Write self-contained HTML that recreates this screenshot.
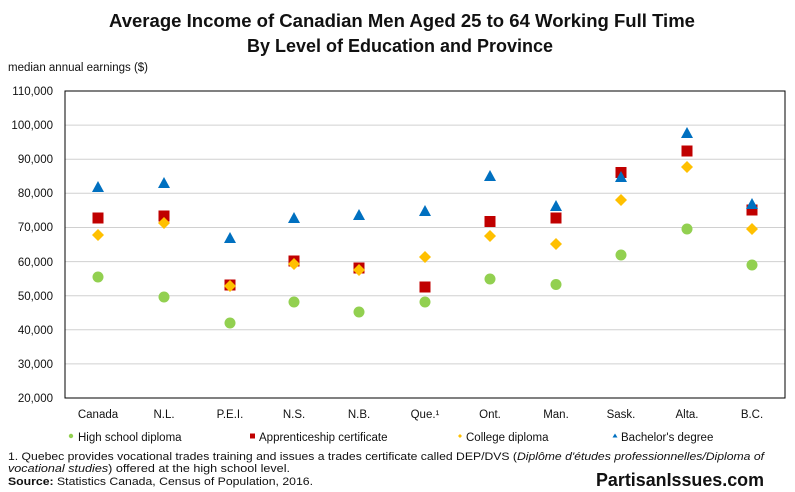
<!DOCTYPE html>
<html><head><meta charset="utf-8"><style>
body{margin:0;background:#fff;width:795px;height:492px;overflow:hidden}
svg{display:block;font-family:"Liberation Sans",sans-serif}
</style></head><body>
<svg width="795" height="492" viewBox="0 0 795 492" xmlns="http://www.w3.org/2000/svg">
<text x="109" y="27" font-size="18" font-weight="bold" fill="#111" textLength="586" lengthAdjust="spacingAndGlyphs">Average Income of Canadian Men Aged 25 to 64 Working Full Time</text>
<text x="247" y="52" font-size="18" font-weight="bold" fill="#111" textLength="306" lengthAdjust="spacingAndGlyphs">By Level of Education and Province</text>
<text x="8" y="71" font-size="11.5" fill="#111">median annual earnings ($)</text>
<g stroke="#d0d0d0" stroke-width="1">
<line x1="65" x2="785" y1="125.1" y2="125.1"/><line x1="65" x2="785" y1="159.2" y2="159.2"/><line x1="65" x2="785" y1="193.3" y2="193.3"/><line x1="65" x2="785" y1="227.5" y2="227.5"/><line x1="65" x2="785" y1="261.6" y2="261.6"/><line x1="65" x2="785" y1="295.7" y2="295.7"/><line x1="65" x2="785" y1="329.8" y2="329.8"/><line x1="65" x2="785" y1="363.9" y2="363.9"/>
</g>
<rect x="65" y="91" width="720" height="307" fill="none" stroke="#000" stroke-width="1"/>
<g font-size="11.5" fill="#111" text-anchor="end">
<text x="53" y="95">110,000</text><text x="53" y="129">100,000</text><text x="53" y="163">90,000</text><text x="53" y="197">80,000</text><text x="53" y="231">70,000</text><text x="53" y="266">60,000</text><text x="53" y="300">50,000</text><text x="53" y="334">40,000</text><text x="53" y="368">30,000</text><text x="53" y="402">20,000</text>
</g>
<g font-size="11.5" fill="#111" text-anchor="middle">
<text x="98" y="418">Canada</text><text x="164" y="418">N.L.</text><text x="230" y="418">P.E.I.</text><text x="294" y="418">N.S.</text><text x="359" y="418">N.B.</text><text x="425" y="418">Que.¹</text><text x="490" y="418">Ont.</text><text x="556" y="418">Man.</text><text x="621" y="418">Sask.</text><text x="687" y="418">Alta.</text><text x="752" y="418">B.C.</text>
</g>
<g fill="#92d050">
<circle cx="98" cy="277" r="5.5"/><circle cx="164" cy="297" r="5.5"/><circle cx="230" cy="323" r="5.5"/><circle cx="294" cy="302" r="5.5"/><circle cx="359" cy="312" r="5.5"/><circle cx="425" cy="302" r="5.5"/><circle cx="490" cy="279" r="5.5"/><circle cx="556" cy="284.5" r="5.5"/><circle cx="621" cy="255" r="5.5"/><circle cx="687" cy="229" r="5.5"/><circle cx="752" cy="265" r="5.5"/>
</g>
<g fill="#c00000">
<rect x="92.5" y="212.5" width="11" height="11"/><rect x="158.5" y="210.5" width="11" height="11"/><rect x="224.5" y="279.5" width="11" height="11"/><rect x="288.5" y="255.5" width="11" height="11"/><rect x="353.5" y="262.5" width="11" height="11"/><rect x="419.5" y="281.5" width="11" height="11"/><rect x="484.5" y="216" width="11" height="11"/><rect x="550.5" y="212.5" width="11" height="11"/><rect x="615.5" y="167" width="11" height="11"/><rect x="681.5" y="145.5" width="11" height="11"/><rect x="746.5" y="204.5" width="11" height="11"/>
</g>
<g fill="#ffc000">
<path d="M98 229l6 6-6 6-6-6z"/><path d="M164 217l6 6-6 6-6-6z"/><path d="M230 280l6 6-6 6-6-6z"/><path d="M294 258l6 6-6 6-6-6z"/><path d="M359 264l6 6-6 6-6-6z"/><path d="M425 251l6 6-6 6-6-6z"/><path d="M490 230l6 6-6 6-6-6z"/><path d="M556 238l6 6-6 6-6-6z"/><path d="M621 194l6 6-6 6-6-6z"/><path d="M687 161l6 6-6 6-6-6z"/><path d="M752 223l6 6-6 6-6-6z"/>
</g>
<g fill="#0070c0">
<path d="M98 181l6 11h-12z"/><path d="M164 177l6 11h-12z"/><path d="M230 232l6 11h-12z"/><path d="M294 212l6 11h-12z"/><path d="M359 209l6 11h-12z"/><path d="M425 205l6 11h-12z"/><path d="M490 170l6 11h-12z"/><path d="M556 200l6 11h-12z"/><path d="M621 171l6 11h-12z"/><path d="M687 127l6 11h-12z"/><path d="M752 198l6 11h-12z"/>
</g>
<g font-size="11.5" fill="#111">
<circle cx="71" cy="436" r="2.2" fill="#92d050"/><text x="78" y="441">High school diploma</text>
<rect x="250" y="433.5" width="5" height="5" fill="#c00000"/><text x="259" y="441">Apprenticeship certificate</text>
<path d="M460 434l2 2-2 2-2-2z" fill="#ffc000"/><text x="466" y="441">College diploma</text>
<path d="M615 433.5l2.5 4h-5z" fill="#0070c0"/><text x="621" y="441">Bachelor's degree</text>
</g>
<g font-size="10.8" fill="#111">
<text x="8" y="460" textLength="756" lengthAdjust="spacingAndGlyphs">1. Quebec provides vocational trades training and issues a trades certificate called DEP/DVS (<tspan font-style="italic">Diplôme d'études professionnelles/Diploma of</tspan></text>
<text x="8" y="472" textLength="282" lengthAdjust="spacingAndGlyphs"><tspan font-style="italic">vocational studies</tspan>) offered at the high school level.</text>
<text x="8" y="485" textLength="305" lengthAdjust="spacingAndGlyphs"><tspan font-weight="bold">Source:</tspan> Statistics Canada, Census of Population, 2016.</text>
</g>
<text x="596" y="486" font-size="18" font-weight="bold" fill="#111" textLength="168" lengthAdjust="spacingAndGlyphs">PartisanIssues.com</text>
</svg>
</body></html>
